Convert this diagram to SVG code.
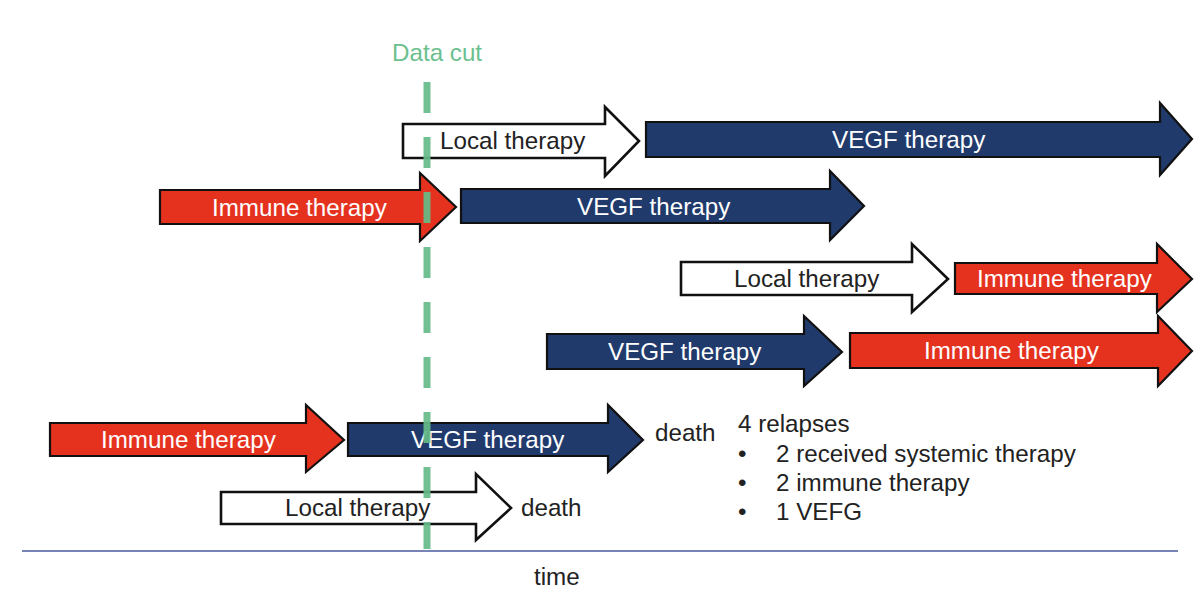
<svg xmlns="http://www.w3.org/2000/svg" width="1200" height="592" viewBox="0 0 1200 592">
<style>
.arr{stroke:#111;stroke-width:2.2;stroke-linejoin:miter}
.red{fill:#e5321f}
.navy{fill:#213a6c}
.white{fill:#ffffff;stroke-width:2.6}
.lt{font-family:"Liberation Sans",Arial,sans-serif;font-size:24.2px;fill:#ffffff}
.dt{font-family:"Liberation Sans",Arial,sans-serif;font-size:24.2px;fill:#222222}
.gt{font-family:"Liberation Sans",Arial,sans-serif;font-size:24.2px;fill:#6cc08e}
</style>
<rect width="1200" height="592" fill="#ffffff"/>
<g id="row1-local"><polygon class="arr white" points="403,124 605,124 605,107 639,141 605,176 605,158 403,158"/><text class="dt" x="440" y="149">Local therapy</text></g>
<g id="row1-vegf"><polygon class="arr navy" points="646,122 1160,122 1160,103 1192,139 1160,175 1160,157 646,157"/><text class="lt" x="832" y="148">VEGF therapy</text></g>
<g id="row2-immune"><polygon class="arr red" points="160,190 420,190 420,173 456,207 420,241 420,224 160,224"/><text class="lt" x="212" y="216">Immune therapy</text></g>
<g id="row2-vegf"><polygon class="arr navy" points="461,189 830,189 830,171 864,206 830,240 830,223 461,223"/><text class="lt" x="577" y="215">VEGF therapy</text></g>
<g id="row3-local"><polygon class="arr white" points="681,262 912,262 912,244 948,279 912,312 912,295 681,295"/><text class="dt" x="734" y="287">Local therapy</text></g>
<g id="row3-immune"><polygon class="arr red" points="955,263 1157,263 1157,244 1192,279 1157,312 1157,294 955,294"/><text class="lt" x="977" y="287">Immune therapy</text></g>
<g id="row4-vegf"><polygon class="arr navy" points="547,334 804,334 804,316 842,352 804,386 804,369 547,369"/><text class="lt" x="608" y="360">VEGF therapy</text></g>
<g id="row4-immune"><polygon class="arr red" points="850,333 1158,333 1158,316 1192,351 1158,386 1158,368 850,368"/><text class="lt" x="924" y="359">Immune therapy</text></g>
<g id="row5-immune"><polygon class="arr red" points="50,423 306,423 306,405 344,440 306,472 306,456 50,456"/><text class="lt" x="101" y="448">Immune therapy</text></g>
<g id="row5-vegf"><polygon class="arr navy" points="348,423 608,423 608,405 643,440 608,472 608,456 348,456"/><text class="lt" x="411" y="448">VEGF therapy</text></g>
<g id="row5-death"><text class="dt" x="655" y="441">death</text></g>
<g id="row6-local"><polygon class="arr white" points="221,492 476,492 476,474 511,508 476,540 476,524 221,524"/><text class="dt" x="285" y="516">Local therapy</text></g>
<g id="row6-death"><text class="dt" x="521" y="516">death</text></g>
<g id="connectors">
<line x1="22" y1="551" x2="1178" y2="551" stroke="#4a5a9c" stroke-width="1.5"/>
<line x1="427" y1="82" x2="427" y2="549" stroke="#66bb88" stroke-width="7" stroke-dasharray="31 24" opacity="0.92"/>
</g>
<g id="data-cut-label"><text class="gt" x="392" y="61">Data cut</text></g>
<g id="relapses">
<text class="dt" x="738" y="432">4 relapses</text>
<text class="dt" x="738" y="462">•</text><text class="dt" x="776" y="462">2 received systemic therapy</text>
<text class="dt" x="738" y="491">•</text><text class="dt" x="776" y="491">2 immune therapy</text>
<text class="dt" x="738" y="520">•</text><text class="dt" x="776" y="520">1 VEFG</text>
</g>
<g id="axis-label"><text class="dt" x="534" y="585">time</text></g>
</svg>
